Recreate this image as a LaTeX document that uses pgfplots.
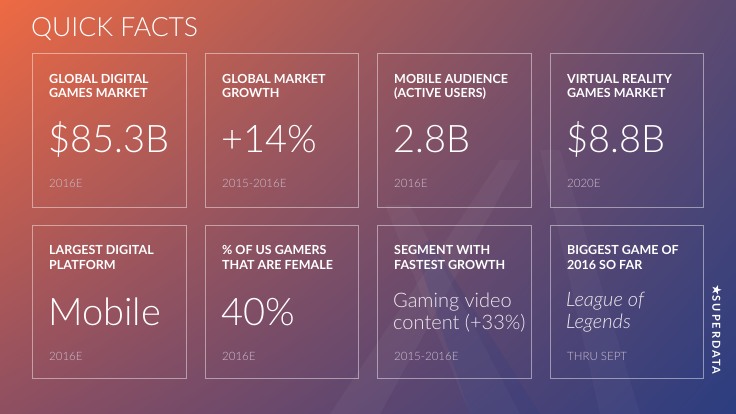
\documentclass[border=0pt]{standalone}
\usepackage{fontspec}
\setmainfont{Lato}
\newfontfamily\latolight{Lato Light}
\newfontfamily\symfont{DejaVu Sans}
\usepackage{pgfplots}
\pgfplotsset{compat=1.18}
\usetikzlibrary{shadings}

\definecolor{bgTL}{HTML}{EE6A43}
\definecolor{bgTR}{HTML}{5B4A72}
\definecolor{bgBL}{HTML}{8E4F61}
\definecolor{bgBR}{HTML}{2B3D80}
\definecolor{bgB}{HTML}{7C4F6A}
\definecolor{yeargray}{HTML}{CDBFCF}

\newcommand{\lbl}{\fontsize{12.5}{15}\bfseries\selectfont}
\newcommand{\bigv}{\latolight\fontsize{38}{42}\selectfont}
\newcommand{\midv}{\latolight\fontsize{20}{24}\selectfont}
\newcommand{\yr}{\latolight\fontsize{11.5}{13}\selectfont}

\begin{document}
\begin{tikzpicture}
\begin{axis}[
  width=736pt, height=414pt, scale only axis,
  xmin=0, xmax=736, ymin=0, ymax=414, y dir=reverse,
  hide axis, clip=true,
  box/.style={draw=white, draw opacity=0.45, line width=0.9pt, mark=none},
]
% background
\shade[upper left=bgTL, upper right=bgTR, lower left=bgBL, lower right=bgBR]
  (axis cs:0,0) rectangle (axis cs:736,414);
% faint X in the background
\fill[white, opacity=0.04] (axis cs:330,414) -- (axis cs:380,414) -- (axis cs:520,160) -- (axis cs:500,160) -- cycle;
\fill[white, opacity=0.035] (axis cs:385,205) -- (axis cs:410,205) -- (axis cs:520,414) -- (axis cs:470,414) -- cycle;
\fill[bgBR, opacity=0.2] (axis cs:470,414) -- (axis cs:540,414) -- (axis cs:430,240) -- (axis cs:415,250) -- cycle;
\fill[white, opacity=0.03] (axis cs:540,150) -- (axis cs:560,150) -- (axis cs:640,414) -- (axis cs:600,414) -- cycle;

% boxes
\addplot[box] coordinates {(32,53) (186,53) (186,207) (32,207) (32,53)};
\addplot[box] coordinates {(205,53) (358,53) (358,207) (205,207) (205,53)};
\addplot[box] coordinates {(377,53) (531,53) (531,207) (377,207) (377,53)};
\addplot[box] coordinates {(550,53) (703,53) (703,207) (550,207) (550,53)};
\addplot[box] coordinates {(32,225) (186,225) (186,378) (32,378) (32,225)};
\addplot[box] coordinates {(205,225) (358,225) (358,378) (205,378) (205,225)};
\addplot[box] coordinates {(377,225) (531,225) (531,378) (377,378) (377,225)};
\addplot[box] coordinates {(550,225) (703,225) (703,378) (550,378) (550,225)};

% title
\node[anchor=base west, inner sep=0, text=white] at (axis cs:31,37) {\latolight\fontsize{26.5}{30}\selectfont QUICK FACTS};

% labels
\tikzset{lab/.style={anchor=base west, inner sep=0, text=white, font=\lbl}}
\node[lab] at (axis cs:49,83.5) {GLOBAL DIGITAL};
\node[lab] at (axis cs:49,98) {GAMES MARKET};
\node[lab] at (axis cs:222,83.5) {GLOBAL MARKET};
\node[lab] at (axis cs:222,98) {GROWTH};
\node[lab] at (axis cs:394,83.5) {MOBILE AUDIENCE};
\node[lab] at (axis cs:394,98) {(ACTIVE USERS)};
\node[lab] at (axis cs:567,83.5) {VIRTUAL REALITY};
\node[lab] at (axis cs:567,98) {GAMES MARKET};
\node[lab] at (axis cs:49,254.5) {LARGEST DIGITAL};
\node[lab] at (axis cs:49,269) {PLATFORM};
\node[lab] at (axis cs:222,254.5) {\% OF US GAMERS};
\node[lab] at (axis cs:222,269) {THAT ARE FEMALE};
\node[lab] at (axis cs:394,254.5) {SEGMENT WITH};
\node[lab] at (axis cs:394,269) {FASTEST GROWTH};
\node[lab] at (axis cs:567,254.5) {BIGGEST GAME OF};
\node[lab] at (axis cs:567,269) {2016 SO FAR};

% big values
\tikzset{val/.style={anchor=base west, inner sep=0, text=white}}
\node[val] at (axis cs:48,153) {\bigv \$85.3B};
\node[val] at (axis cs:221,153) {\bigv +14\%};
\node[val] at (axis cs:393,153) {\bigv 2.8B};
\node[val] at (axis cs:566,153) {\bigv \$8.8B};
\node[val] at (axis cs:48,325) {\bigv Mobile};
\node[val] at (axis cs:221,325) {\bigv 40\%};
\node[val, text=white!88!bgB] at (axis cs:393,307) {\midv Gaming video};
\node[val, text=white!88!bgB] at (axis cs:393,329) {\midv content (+33\%)};
\node[val, text=white!88!bgB] at (axis cs:566,306) {\midv\itshape League of};
\node[val, text=white!88!bgB] at (axis cs:566,328) {\midv\itshape Legends};

% years
\tikzset{yrs/.style={anchor=base west, inner sep=0, text=yeargray}}
\node[yrs] at (axis cs:49,188) {\yr 2016E};
\node[yrs] at (axis cs:222,188) {\yr 2015-2016E};
\node[yrs] at (axis cs:394,188) {\yr 2016E};
\node[yrs] at (axis cs:567,188) {\yr 2020E};
\node[yrs] at (axis cs:49,360.5) {\yr 2016E};
\node[yrs] at (axis cs:222,360.5) {\yr 2016E};
\node[yrs] at (axis cs:394,360.5) {\yr 2015-2016E};
\node[yrs] at (axis cs:567,360.5) {\yr THRU SEPT};

% brand
\node[anchor=west, rotate=-90, inner sep=0, text=white] at (axis cs:717,284)
  {\fontsize{11}{13}\selectfont{\symfont\fontsize{13}{13}\selectfont ★}{\bfseries\addfontfeatures{LetterSpace=18}SUPERDATA}};
\end{axis}
\end{tikzpicture}
\end{document}
